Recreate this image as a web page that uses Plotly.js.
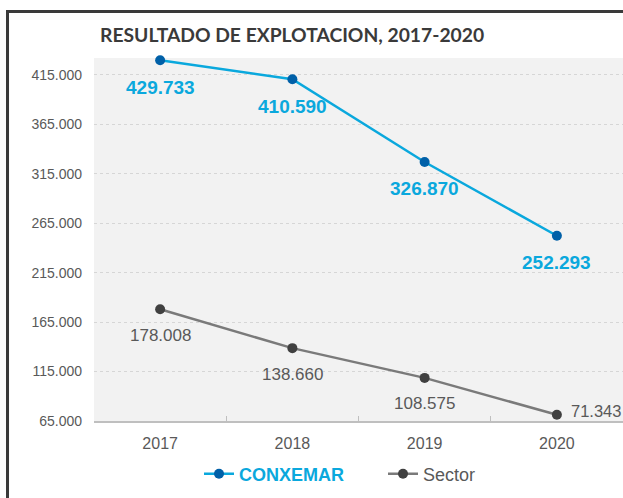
<!DOCTYPE html>
<html>
<head>
<meta charset="utf-8">
<script src="https://cdn.plot.ly/plotly-3.0.1.min.js"></script>
<style>
html,body{margin:0;padding:0;overflow:hidden;background:#fff;}
#wrap{position:relative;width:623px;height:498px;overflow:hidden;}
#chart{position:absolute;left:0;top:0;width:623px;height:498px;}
#frameL{position:absolute;left:6px;top:10px;width:2.5px;height:500px;background:#3a3a3a;pointer-events:none;}
#frameT{position:absolute;left:6px;top:10px;width:617px;height:2.5px;background:#3a3a3a;pointer-events:none;}
</style>
</head>
<body>
<div id="wrap">
<div id="chart"></div>
<div id="frameL"></div>
<div id="frameT"></div>
</div>
<script>
var years = ['2017', '2018', '2019', '2020'];
var conxemar = [429733, 410590, 326870, 252293];
var sector = [178008, 138660, 108575, 71343];
var conxemarLabels = ['429.733', '410.590', '326.870', '252.293'];
var sectorLabels = ['178.008', '138.660', '108.575', '71.343'];
var yTicks = [65000, 115000, 165000, 215000, 265000, 315000, 365000, 415000];

var blue = '#0aa8dd';
var darkBlue = '#0060a8';
var gray = '#7a7a7a';
var darkGray = '#404040';
var textGray = '#595959';

var traces = [
  {
    x: years, y: conxemar, type: 'scatter', mode: 'lines+markers',
    name: '<span style="color:' + blue + ';font-weight:bold">CONXEMAR</span>',
    line: {color: blue, width: 2.5},
    marker: {color: darkBlue, size: 10},
    cliponaxis: false
  },
  {
    x: years, y: sector, type: 'scatter', mode: 'lines+markers',
    name: 'Sector',
    line: {color: gray, width: 2.5},
    marker: {color: darkGray, size: 10},
    cliponaxis: false
  }
];

var annotations = [];
years.forEach(function (yr, i) {
  annotations.push({
    x: i, y: conxemar[i], xref: 'x', yref: 'y', text: conxemarLabels[i],
    showarrow: false, xanchor: 'center', yanchor: 'middle', yshift: -27,
    font: {family: 'Liberation Sans, Arial, sans-serif', size: 19, color: blue, weight: 'bold'}
  });
  var last = i === years.length - 1;
  annotations.push({
    x: i, y: sector[i], xref: 'x', yref: 'y', text: sectorLabels[i],
    showarrow: false, xanchor: last ? 'left' : 'center', yanchor: 'middle',
    xshift: last ? 12 : 0, yshift: last ? 4 : -26,
    font: {family: 'Liberation Sans, Arial, sans-serif', size: last ? 16.5 : 17, color: textGray}
  });
});

var L = 94, T = 58, B = 77, W = 623, H = 498;
var PW = W - L, PH = H - T - B;

var layout = {
  width: W, height: H,
  margin: {l: L, r: 0, t: T, b: B},
  paper_bgcolor: '#ffffff',
  plot_bgcolor: '#f2f2f2',
  separators: ',.',
  showlegend: true,
  title: {
    text: 'RESULTADO DE EXPLOTACION, 2017-2020',
    xref: 'container', yref: 'container',
    x: 100 / W, xanchor: 'left', y: 1 - 35 / H, yanchor: 'middle',
    font: {family: 'Lato, sans-serif', size: 19.3, color: '#3a3a3a', weight: 'bold'}
  },
  xaxis: {
    type: 'category', range: [-0.5, 3.5],
    showgrid: false, zeroline: false,
    showline: true, linecolor: '#bfbfbf', linewidth: 1.5,
    ticks: 'inside', tickson: 'boundaries', ticklen: 5, tickcolor: '#bfbfbf', tickwidth: 1,
    ticklabelstandoff: 7,
    tickfont: {family: 'Liberation Sans, Arial, sans-serif', size: 16, color: textGray},
    fixedrange: true
  },
  yaxis: {
    range: [65000, 432000],
    tickvals: yTicks, tickformat: ',d',
    showgrid: true, gridcolor: '#d6d6d6', griddash: 'dot', gridwidth: 1,
    zeroline: false, showline: false, ticks: '',
    ticklabelstandoff: 11,
    tickfont: {family: 'Liberation Sans, Arial, sans-serif', size: 14, color: textGray},
    fixedrange: true
  },
  legend: {
    orientation: 'h', xref: 'paper', x: (199 - L) / PW, xanchor: 'left',
    yref: 'container', y: 1 - 474 / H, yanchor: 'middle',
    bgcolor: 'rgba(0,0,0,0)',
    font: {family: 'Liberation Sans, Arial, sans-serif', size: 18, color: textGray},
    entrywidth: 139, entrywidthmode: 'pixels'
  },
  annotations: annotations
};

Plotly.newPlot('chart', traces, layout, {displayModeBar: false, staticPlot: true});
</script>
</body>
</html>
